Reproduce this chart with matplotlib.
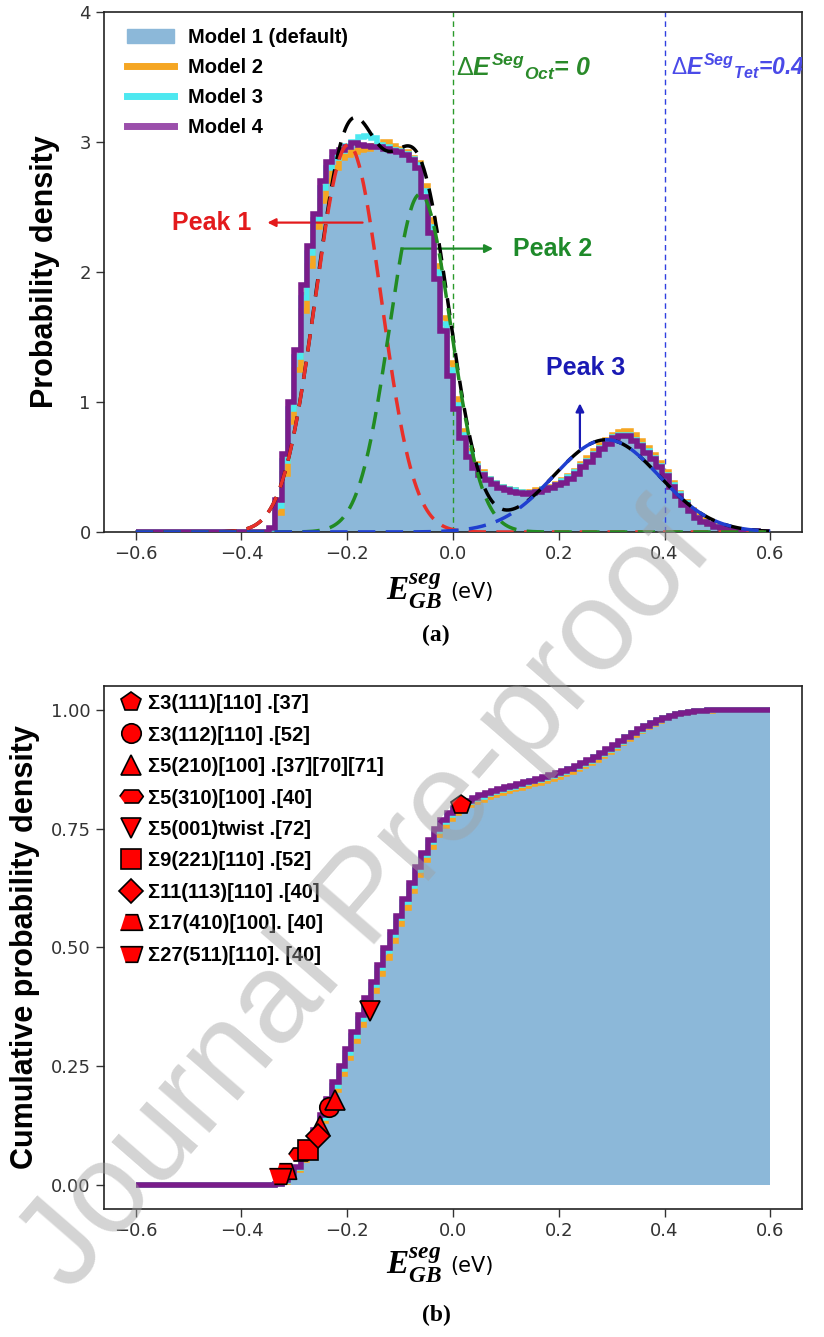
import numpy as np
import matplotlib
matplotlib.use("Agg")
import matplotlib.pyplot as plt
from matplotlib.patches import Patch
from matplotlib.lines import Line2D

plt.rcParams['mathtext.fontset'] = 'custom'
plt.rcParams['mathtext.it'] = 'Liberation Sans:italic:bold'
plt.rcParams['mathtext.rm'] = 'Liberation Sans'
plt.rcParams['mathtext.bf'] = 'Liberation Serif:italic:bold'

# ---------------- data ----------------
bin_lo, bin_hi, n_bins = -0.6, 0.6, 100

model1 = [0.0]*21 + [
    0.02, 0.22, 0.58, 0.98, 1.38, 1.85, 2.18, 2.42, 2.66, 2.82,
    2.90, 2.93, 2.95, 2.97, 2.98, 2.98, 2.97, 2.96, 2.95, 2.94,
    2.92, 2.90, 2.86, 2.80, 2.60, 2.32, 1.98, 1.58, 1.22, 0.96,
    0.74, 0.59, 0.50, 0.45, 0.41, 0.37, 0.35, 0.33, 0.31, 0.30,
    0.30, 0.30, 0.31, 0.32, 0.34, 0.36, 0.39, 0.42, 0.46, 0.50,
    0.55, 0.60, 0.65, 0.69, 0.73, 0.75, 0.75, 0.71, 0.67, 0.62,
    0.57, 0.51, 0.44, 0.36, 0.29, 0.22, 0.16, 0.11, 0.08, 0.06,
    0.04, 0.03, 0.02, 0.015, 0.01, 0.007, 0.004, 0.002, 0.0]
model2 = [0.0]*21 + [
    0.01, 0.15, 0.45, 0.85, 1.25, 1.70, 2.05, 2.35, 2.55, 2.70,
    2.80, 2.88, 2.90, 2.92, 2.94, 2.95, 2.97, 2.98, 3.00, 2.97,
    2.95, 2.92, 2.88, 2.84, 2.66, 2.40, 2.05, 1.65, 1.30, 1.02,
    0.78, 0.62, 0.52, 0.46, 0.41, 0.38, 0.35, 0.33, 0.32, 0.31,
    0.30, 0.31, 0.32, 0.33, 0.35, 0.37, 0.40, 0.43, 0.47, 0.52,
    0.57, 0.62, 0.67, 0.71, 0.75, 0.77, 0.78, 0.75, 0.70, 0.65,
    0.59, 0.53, 0.46, 0.38, 0.30, 0.23, 0.17, 0.12, 0.09, 0.06,
    0.045, 0.03, 0.02, 0.015, 0.01, 0.007, 0.004, 0.002, 0.0]
model3 = [0.0]*21 + [
    0.02, 0.20, 0.55, 0.95, 1.35, 1.80, 2.15, 2.40, 2.65, 2.80,
    2.88, 2.93, 2.97, 3.00, 3.04, 3.05, 3.03, 2.98, 2.96, 2.94,
    2.93, 2.91, 2.87, 2.82, 2.62, 2.35, 2.00, 1.60, 1.25, 0.98,
    0.75, 0.60, 0.51, 0.45, 0.41, 0.38, 0.35, 0.33, 0.32, 0.31,
    0.30, 0.30, 0.31, 0.33, 0.34, 0.36, 0.39, 0.42, 0.46, 0.51,
    0.55, 0.60, 0.65, 0.69, 0.73, 0.75, 0.75, 0.71, 0.67, 0.62,
    0.57, 0.51, 0.44, 0.36, 0.29, 0.22, 0.16, 0.11, 0.08, 0.06,
    0.04, 0.03, 0.02, 0.015, 0.01, 0.007, 0.004, 0.002, 0.0]
model4 = [0.0]*21 + [
    0.03, 0.25, 0.60, 1.00, 1.40, 1.90, 2.20, 2.45, 2.70, 2.85,
    2.92, 2.94, 2.96, 2.99, 2.98, 2.97, 2.96, 2.96, 2.95, 2.93,
    2.92, 2.90, 2.86, 2.80, 2.58, 2.30, 1.95, 1.55, 1.20, 0.95,
    0.72, 0.58, 0.49, 0.44, 0.40, 0.37, 0.34, 0.32, 0.31, 0.30,
    0.29, 0.30, 0.31, 0.32, 0.34, 0.36, 0.38, 0.41, 0.45, 0.50,
    0.54, 0.59, 0.64, 0.68, 0.72, 0.74, 0.74, 0.70, 0.66, 0.61,
    0.56, 0.50, 0.43, 0.35, 0.28, 0.21, 0.16, 0.11, 0.08, 0.06,
    0.04, 0.03, 0.02, 0.015, 0.01, 0.007, 0.004, 0.002, 0.0]

model_labels = ['Model 1 (default)', 'Model 2', 'Model 3', 'Model 4']

# Gaussian fit parameters (amplitude, centre, sigma) for peaks 1-3
peak_amp = [2.98, 2.60, 0.71]
peak_mu = [-0.198, -0.062, 0.290]
peak_sigma = [0.062, 0.058, 0.100]

oct_energy = 0.0
tet_energy = 0.4

gb_labels = ['Σ3(111)[110] .[37]', 'Σ3(112)[110] .[52]', 'Σ5(210)[100] .[37][70][71]',
             'Σ5(310)[100] .[40]', 'Σ5(001)twist .[72]', 'Σ9(221)[110] .[52]',
             'Σ11(113)[110] .[40]', 'Σ17(410)[100]. [40]', 'Σ27(511)[110]. [40]']
gb_x = [[0.015], [-0.235], [-0.224, -0.252], [-0.290], [-0.157], [-0.275],
        [-0.256], [-0.318], [-0.328]]
gb_y = [[0.800], [0.165], [0.180, 0.125], [0.066], [0.366], [0.075],
        [0.104], [0.030], [0.020]]

xticks = [-0.6, -0.4, -0.2, 0.0, 0.2, 0.4, 0.6]

# ---------------- style ----------------
c_fill = '#8cb8d9'
c_or = '#f5a623'
c_cy = '#4de8f0'
c_pu = '#7a1c8a'
trap = [(-1, -0.7), (1, -0.7), (0.55, 0.7), (-0.55, 0.7)]
trap_inv = [(-1, 0.7), (1, 0.7), (0.55, -0.7), (-0.55, -0.7)]
hexw = [(-1, 0), (-0.6, 0.55), (0.6, 0.55), (1, 0), (0.6, -0.55), (-0.6, -0.55)]
gb_markers = ['p', 'o', '^', hexw, 'v', 's', 'D', trap, trap_inv]
gb_ms = [15, 14, 15, 17, 15, 14, 12, 16, 16]

W, H = 824, 1337
fig = plt.figure(figsize=(W / 100, H / 100), dpi=100)

def axrect(l, r, t, b):
    return [l / W, 1 - b / H, (r - l) / W, (b - t) / H]

ax1 = fig.add_axes(axrect(104, 802, 12, 532))
ax2 = fig.add_axes(axrect(104, 802, 686, 1209))

edges = np.linspace(bin_lo, bin_hi, n_bins + 1)
models = [np.array(m) for m in (model1, model2, model3, model4)]

bold_sans = dict(family='Liberation Sans', weight='bold')

# ---------- panel (a) ----------
ax1.stairs(models[0], edges, fill=True, color=c_fill, zorder=1)
ax1.stairs(models[1], edges, color=c_or, lw=4, zorder=2)
ax1.stairs(models[2], edges, color=c_cy, lw=4, zorder=3)
ax1.stairs(models[3], edges, color=c_pu, lw=4, zorder=4)

ax1.axvline(oct_energy, color='#2a9a2a', lw=1, ls=(0, (4, 3)), zorder=1.5)
ax1.axvline(tet_energy, color='#3040e0', lw=1, ls=(0, (4, 3)), zorder=1.5)

xf = np.linspace(bin_lo, bin_hi, 600)
g = [a * np.exp(-0.5 * ((xf - m) / s) ** 2) for a, m, s in zip(peak_amp, peak_mu, peak_sigma)]
ax1.plot(xf, g[0] + g[1] + g[2], color='black', lw=2.5, ls=(0, (5, 3)), zorder=5)
for gi, col in zip(g, ['#e8302a', '#228b22', '#1f3fd0']):
    ax1.plot(xf, gi, color=col, lw=2.5, ls=(0, (5, 3)), zorder=6)

ax1.set_xlim(-0.66, 0.66)
ax1.set_ylim(0, 4)
ax1.set_xticks(xticks)
ax1.set_yticks([0, 1, 2, 3, 4])
ax1.set_ylabel('Probability density', fontsize=22, labelpad=14, **bold_sans)

handles = [Patch(color=c_fill), Line2D([], [], color=c_or, lw=5),
           Line2D([], [], color=c_cy, lw=5), Line2D([], [], color='#9b4fab', lw=5)]
ax1.legend(handles, model_labels, loc='upper left', bbox_to_anchor=(0.022, 0.985),
           borderaxespad=0, frameon=False, prop=dict(family='Liberation Sans', weight='bold', size=14.5),
           handlelength=2.3, handletextpad=0.7, labelspacing=0.55)

ax1.text(0.006, 3.58, r'$\Delta E^{Seg}{}_{Oct}$= 0', color='#2a8a2a', fontsize=18,
         fontweight='bold', style='italic', family='Liberation Sans', va='center', ha='left')
ax1.text(0.412, 3.58, r'$\Delta E^{Seg}{}_{Tet}$=0.4', color='#4a4ae8', fontsize=16.5,
         fontweight='bold', style='italic', family='Liberation Sans', va='center', ha='left',
         clip_on=True)

arrow_kw = dict(arrowstyle='-|>', lw=1.6, mutation_scale=12, shrinkA=0, shrinkB=0)
ax1.annotate('', xy=(-0.351, 2.38), xytext=(-0.171, 2.38),
             arrowprops=dict(color='#e31a1c', **arrow_kw))
ax1.text(-0.381, 2.38, 'Peak 1', color='#e31a1c', fontsize=18, ha='right', va='center', **bold_sans)
ax1.annotate('', xy=(0.076, 2.18), xytext=(-0.097, 2.18),
             arrowprops=dict(color='#1e8a2a', **arrow_kw))
ax1.text(0.114, 2.18, 'Peak 2', color='#1e8a2a', fontsize=18, ha='left', va='center', **bold_sans)
ax1.annotate('', xy=(0.24, 0.99), xytext=(0.24, 0.645),
             arrowprops=dict(color='#1a1ab4', **arrow_kw))
ax1.text(0.251, 1.26, 'Peak 3', color='#1a1ab4', fontsize=18, ha='center', va='center', **bold_sans)

# ---------- panel (b) ----------
cdfs = [np.cumsum(m) / np.sum(m) for m in models]
ax2.stairs(cdfs[0], edges, fill=True, color=c_fill, zorder=1)
ax2.stairs(cdfs[1], edges, color=c_or, lw=4, zorder=2, baseline=None)
ax2.stairs(cdfs[2], edges, color=c_cy, lw=4, zorder=3, baseline=None)
ax2.stairs(cdfs[3], edges, color=c_pu, lw=4, zorder=4, baseline=None)

gb_handles = []
for xs, ys, mk, ms in zip(gb_x, gb_y, gb_markers, gb_ms):
    ax2.plot(xs, ys, ls='none', marker=mk, ms=ms, mfc='#ff0000', mec='black', mew=1.2, zorder=6)
    gb_handles.append(Line2D([], [], ls='none', marker=mk, ms=ms, mfc='#ff0000', mec='black', mew=1.2))
ax2.legend(gb_handles, gb_labels, loc='upper left', bbox_to_anchor=(0.013, 1.0),
           borderaxespad=0, frameon=False, prop=dict(family='Liberation Sans', weight='bold', size=14.5),
           handlelength=1.0, handletextpad=0.35, labelspacing=0.62)

ax2.set_xlim(-0.66, 0.66)
ax2.set_ylim(-0.05, 1.05)
ax2.set_xticks(xticks)
ax2.set_yticks([0, 0.25, 0.5, 0.75, 1.0])
ax2.set_yticklabels(['0.00', '0.25', '0.50', '0.75', '1.00'])
ax2.set_ylabel('Cumulative probability density', fontsize=22, labelpad=8, **bold_sans)

for ax in (ax1, ax2):
    ax.tick_params(labelsize=13, length=6, width=1, color='#333333', labelcolor='#333333')
    for sp in ax.spines.values():
        sp.set_linewidth(1.2)
        sp.set_color('#222222')

# x labels and panel captions
def xlabel_at(ybase):
    fig.text(442 / W, 1 - ybase / H, r'$\mathbf{E}_{\mathbf{GB}}^{\mathbf{seg}}$', fontsize=24,
             ha='right', va='baseline')
    fig.text(450 / W, 1 - (ybase - 2) / H, '(eV)', fontsize=15, family='DejaVu Sans',
             ha='left', va='baseline')

xlabel_at(600)
xlabel_at(1274)
fig.text(436 / W, 1 - 635 / H, '(a)', fontsize=17, family='Liberation Serif', weight='bold',
         ha='center', va='center')
fig.text(436 / W, 1 - 1315 / H, '(b)', fontsize=17, family='Liberation Serif', weight='bold',
         ha='center', va='center')

# watermark
fig.text(368 / W, 1 - 900 / H, 'Journal Pre-proof', rotation=49, fontsize=92,
         family='Liberation Sans', color='#a0a0a0', alpha=0.45, ha='center', va='center',
         zorder=100)

fig.savefig('out.png', dpi=100)
